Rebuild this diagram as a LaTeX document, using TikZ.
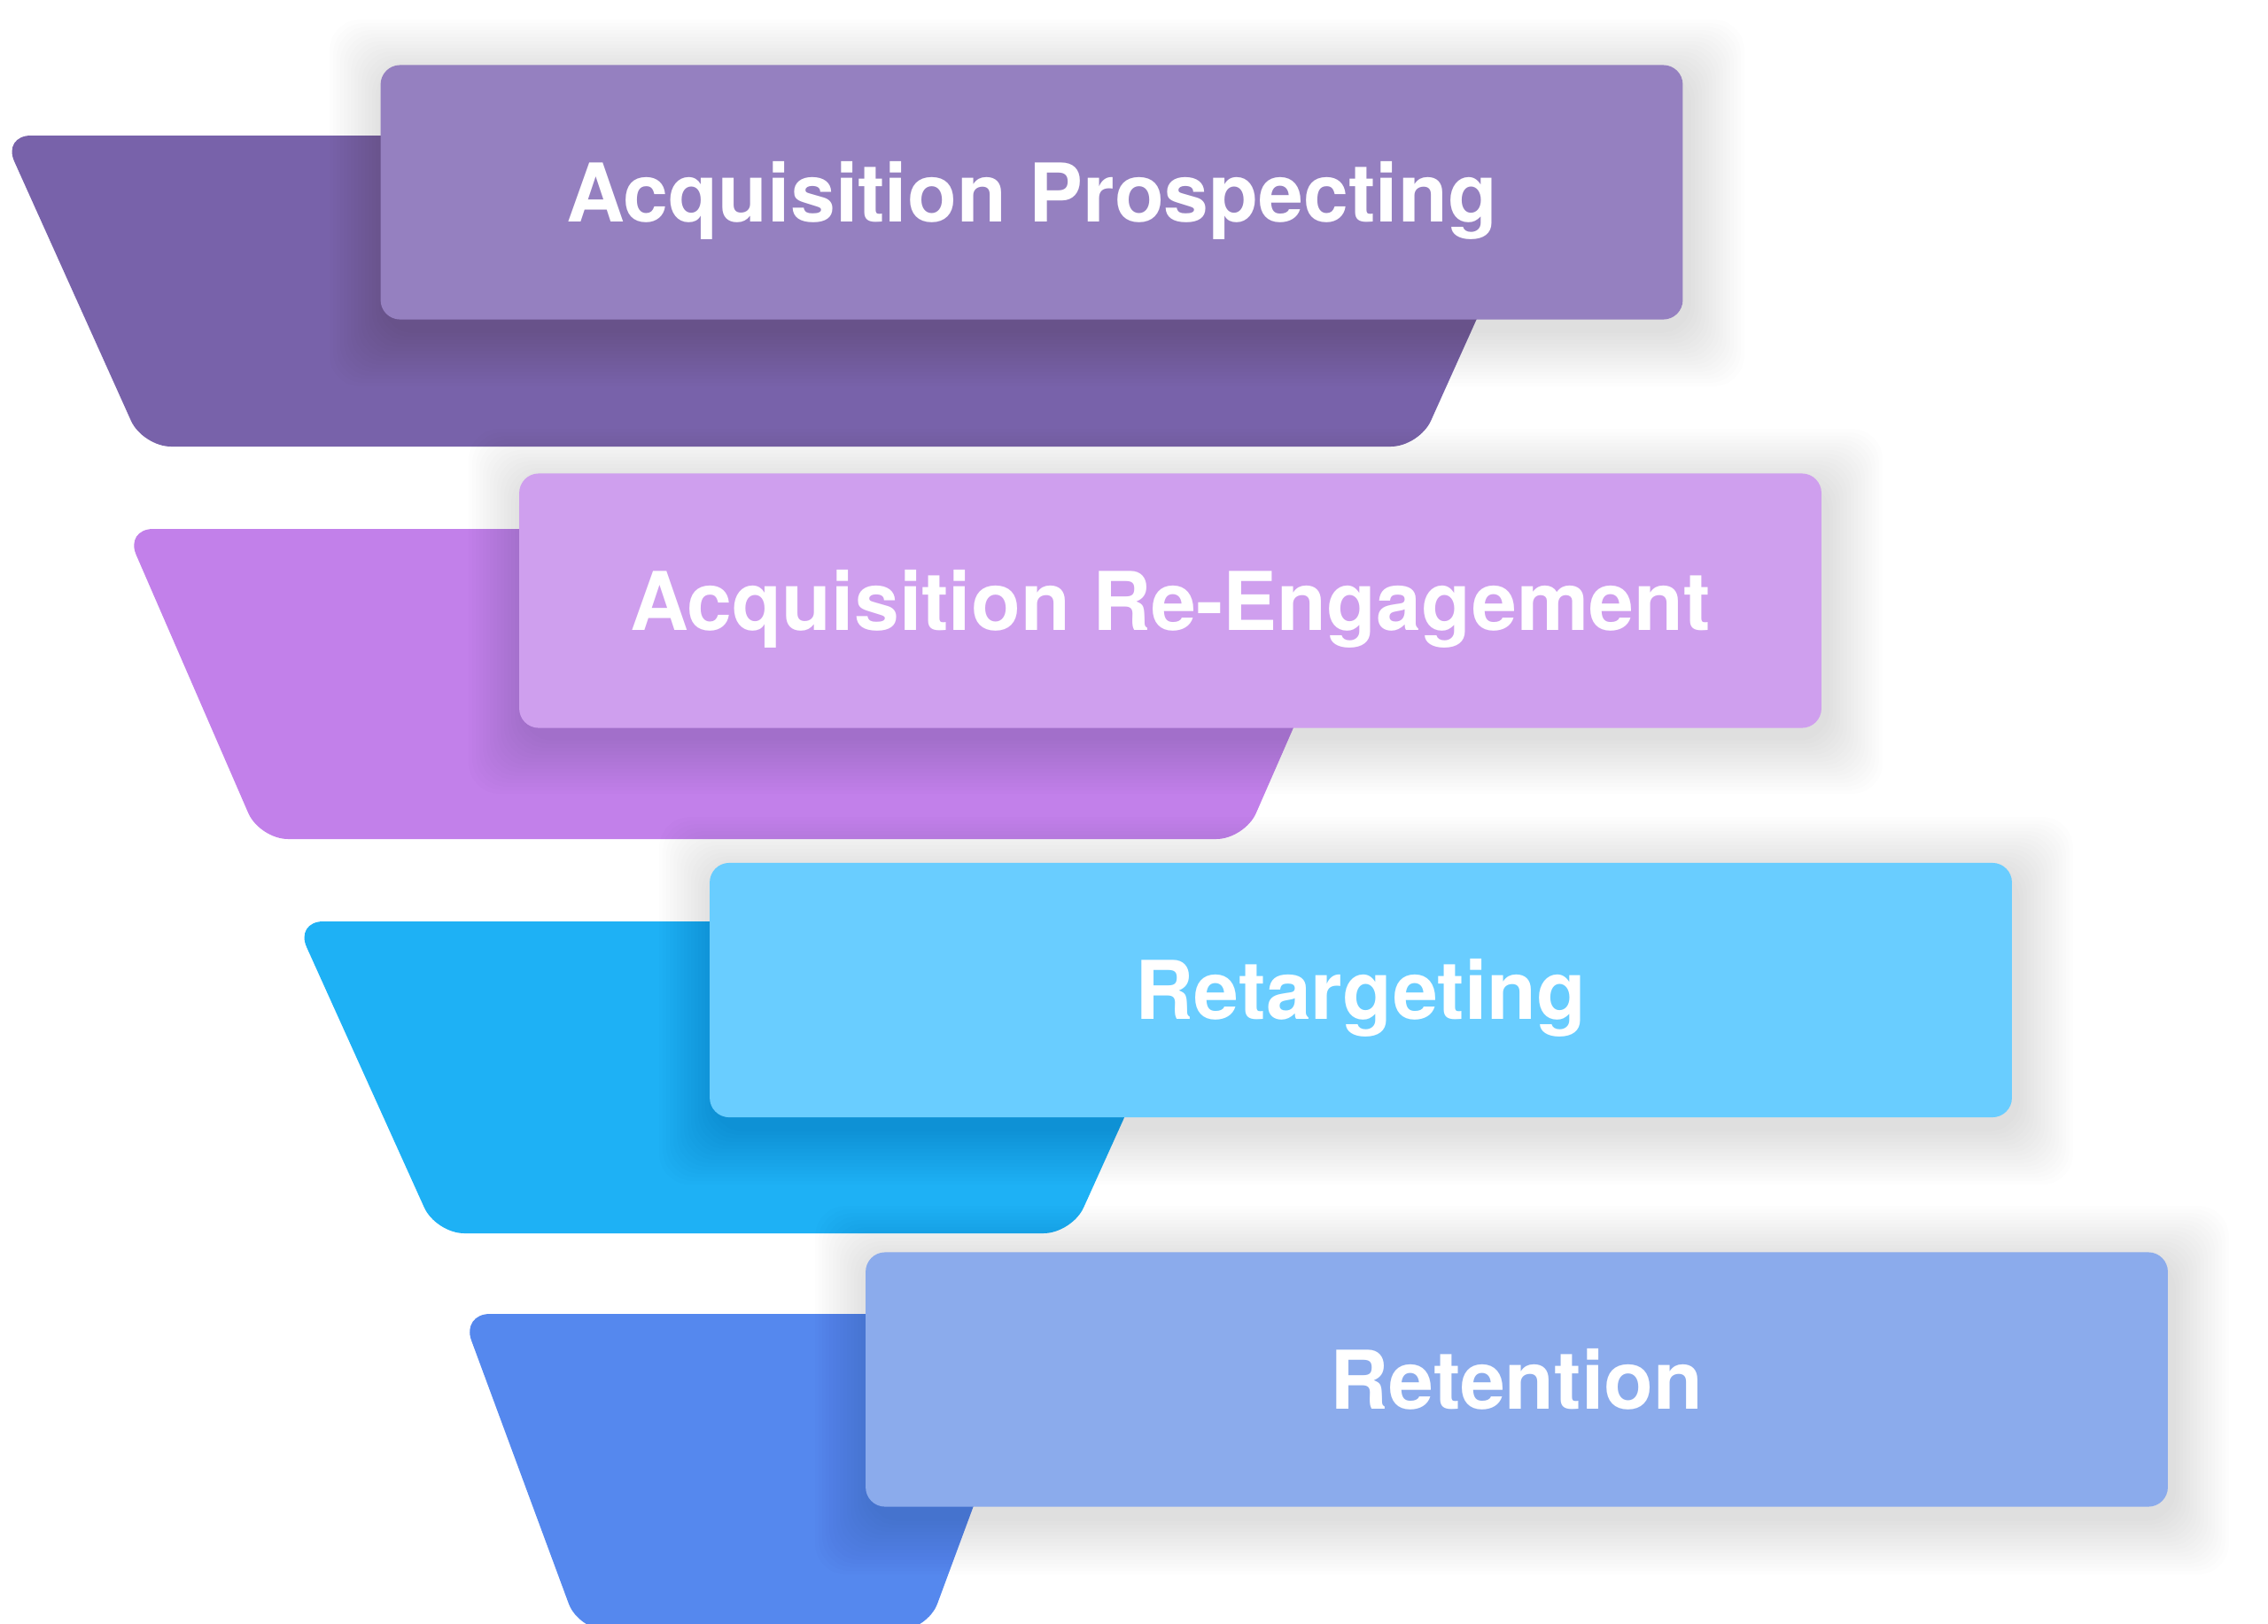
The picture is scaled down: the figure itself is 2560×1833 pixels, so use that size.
\documentclass[tikz,border=0pt]{standalone}
\usepackage{fontspec}
\setmainfont{TeX Gyre Heros}
\definecolor{trapA}{HTML}{7862AA}
\definecolor{boxA}{HTML}{9580C0}
\definecolor{trapB}{HTML}{C280EA}
\definecolor{boxB}{HTML}{CF9FEE}
\definecolor{trapC}{HTML}{1EB1F5}
\definecolor{boxC}{HTML}{69CDFF}
\definecolor{trapD}{HTML}{5588EE}
\definecolor{boxD}{HTML}{8BABEC}
\tikzset{
  funnel/.style={rounded corners=0.32cm},
  shade layer/.style={fill=black, opacity=0.0065, rounded corners=0.35cm},
  stagebox/.style={rectangle, rounded corners=0.22cm, minimum width=14.69cm,
    minimum height=2.87cm, inner sep=0pt, text=white,
    font=\fontsize{26}{31}\selectfont\bfseries,
    text height=0.66cm, text depth=0pt}
}
% soft drop shadow of a box: #1,#2 = top-left corner, #3,#4 = bottom-right corner (px)
\newcommand\castshade[4]{%
  \foreach \i in {1,...,16}{%
    \fill[shade layer] ({#1+6-4*\i},{#2+12-4*\i}) rectangle ({#3+6+4*\i},{#4+12+4*\i});
  }%
}
\begin{document}
\begin{tikzpicture}[x=0.01cm,y=-0.01cm]
\useasboundingbox[fill=white] (0,0) rectangle (2560,1833);
% layer 1
\fill[funnel, trapA] (880,153) -- (1760,153) -- (1602,504) -- (161,504) -- (3,153) -- cycle;
\castshade{430}{74}{1899}{360}
\node[stagebox, fill=boxA] (s1) at (1164.5,217) {Acquisition Prospecting};
% layer 2
\fill[funnel, trapB] (850,597) -- (1558,597) -- (1405,947) -- (293,947) -- (141,597) -- cycle;
\castshade{587}{536}{2055}{820}
\node[stagebox, fill=boxB] (s2) at (1321,678) {Acquisition Re-Engagement};
% layer 3
\fill[funnel, trapC] (850,1040) -- (1369,1040) -- (1210,1392) -- (492,1392) -- (333,1040) -- cycle;
\castshade{802}{974}{2270}{1261}
\node[stagebox, fill=boxC] (s3) at (1536,1117.5) {Retargeting};
% layer 4
\fill[funnel, trapD] (850,1483) -- (1179,1483) -- (1047,1840) -- (653,1840) -- (521,1483) -- cycle;
\castshade{978}{1413}{2446}{1701}
\node[stagebox, fill=boxD] (s4) at (1712,1557) {Retention};
\end{tikzpicture}
\end{document}
